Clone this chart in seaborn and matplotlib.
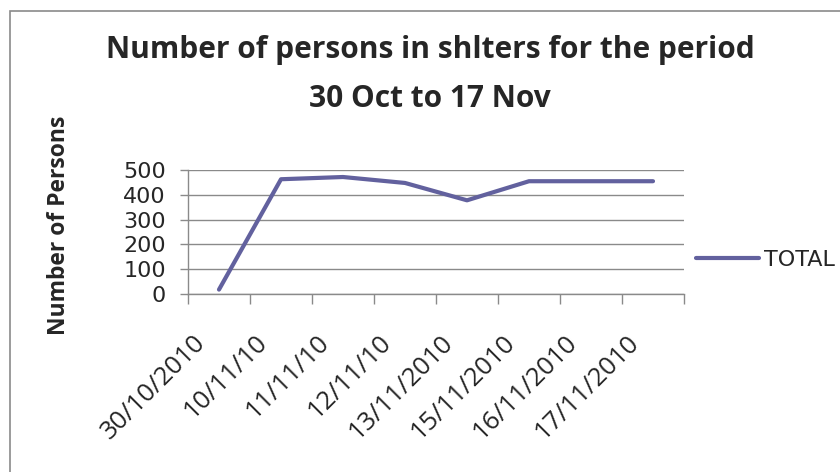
import matplotlib
matplotlib.use('Agg')
import matplotlib.pyplot as plt
import matplotlib.transforms as mtransforms
import seaborn as sns
import pandas as pd
from matplotlib.patches import Rectangle

# data
dates = ['30/10/2010', '10/11/10', '11/11/10', '12/11/10',
         '13/11/2010', '15/11/2010', '16/11/2010', '17/11/2010']
total = [18, 463, 472, 448, 378, 455, 455, 455]
yticks = [0, 100, 200, 300, 400, 500]

df = pd.DataFrame({'Date': dates, 'TOTAL': total})
df['pos'] = range(len(dates))

sns.set_style('white')
plt.rcParams['font.family'] = ['Open Sans', 'DejaVu Sans']

fig = plt.figure(figsize=(8.4, 4.72), dpi=100)
ax = fig.add_axes([0.2238, 0.377, 0.5905, 0.2627])

sns.lineplot(data=df, x='pos', y='TOTAL', ax=ax, color='#62619E',
             linewidth=3.0, label='TOTAL')

ax.set_xlim(-0.5, len(dates) - 0.5)
ax.set_ylim(0, 500)
ax.set_yticks(yticks)
ax.set_yticklabels([str(v) for v in yticks], family='DejaVu Sans', fontsize=16)
ax.yaxis.grid(True, color='#8a8a8a', linewidth=1)
ax.set_axisbelow(True)

# tick marks at category boundaries
ax.set_xticks([i - 0.5 for i in range(len(dates) + 1)])
ax.set_xticklabels([])
ax.tick_params(axis='x', which='major', direction='out', length=7,
               color='#8a8a8a', width=1, bottom=True)
ax.tick_params(axis='y', direction='out', length=6, color='#8a8a8a',
               width=1, left=True, pad=10)

# category labels, rotated and set a bit left/below like the Excel chart
shift = mtransforms.ScaledTranslation(-0.26, -0.36, fig.dpi_scale_trans)
trans = ax.get_xaxis_transform() + shift
for i, d in enumerate(dates):
    ax.text(i, 0, d, transform=trans, rotation=45, ha='right', va='top',
            rotation_mode='anchor', fontsize=18.5)

for s in ['top', 'right']:
    ax.spines[s].set_visible(False)
for s in ['left', 'bottom']:
    ax.spines[s].set_color('#8a8a8a')
    ax.spines[s].set_linewidth(1)

ax.set_xlabel('')
ax.set_ylabel('Number of Persons', fontsize=16.5, fontweight='bold')
ax.yaxis.set_label_coords(-0.235, 0.556)

fig.text(0.512, 0.877, 'Number of persons in shlters for the period',
         ha='center', va='baseline', fontsize=21.5, fontweight='bold')
fig.text(0.512, 0.773, '30 Oct to 17 Nov',
         ha='center', va='baseline', fontsize=21.5, fontweight='bold')

leg = ax.legend(loc='center left', bbox_to_anchor=(0.829, 0.449),
                bbox_transform=fig.transFigure, frameon=False,
                handlelength=2.84, handletextpad=0.22, borderaxespad=0,
                borderpad=0,
                prop={'family': 'DejaVu Sans', 'size': 16})

fig.patches.append(Rectangle((0.012, -0.1), 1.2, 1.077, transform=fig.transFigure,
                             fill=False, edgecolor='#8a8a8a', linewidth=1.2))

fig.savefig('out.png', dpi=100)
